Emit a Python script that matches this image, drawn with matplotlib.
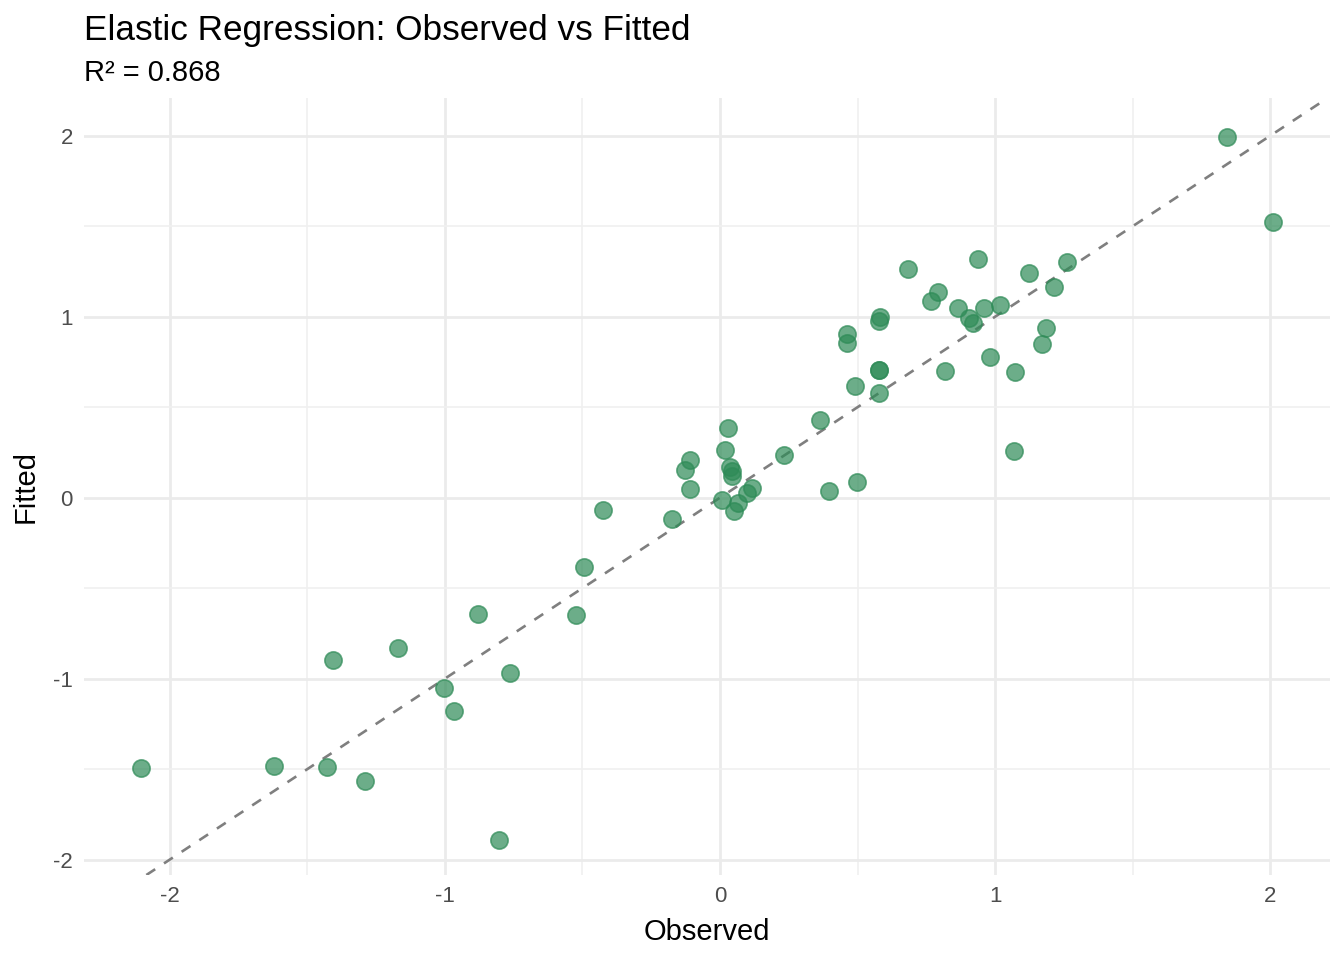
import matplotlib
matplotlib.use("Agg")
import matplotlib.pyplot as plt
from matplotlib.ticker import MultipleLocator, FixedLocator

plt.rcParams['font.family'] = ['Liberation Sans', 'DejaVu Sans']

# observed vs fitted values
observed = [1.844, 2.011, 0.684, 0.938, 1.124, 1.262, 0.793, 0.767, 0.865, 0.960,
            1.018, 0.905, 0.920, 1.215, 1.185, 1.171, 0.982, 1.073, 0.818, 1.069,
            0.582, 0.578, 0.462, 0.462, 0.578, 0.578, 0.578, 0.491, 0.364, 0.396,
            0.498, 0.233, 0.029, 0.018, 0.036, 0.044, 0.044, -0.109, -0.127, -0.109,
            0.007, 0.065, 0.051, 0.098, 0.116, -0.175, -0.425, -0.495, -0.524, -0.880,
            -0.764, -1.171, -1.407, -1.004, -0.967, -1.622, -1.429, -1.291, -2.105, -0.804]
fitted = [1.994, 1.525, 1.265, 1.320, 1.243, 1.304, 1.138, 1.088, 1.050, 1.050,
          1.066, 0.994, 0.967, 1.166, 0.939, 0.851, 0.779, 0.696, 0.702, 0.260,
          1.000, 0.978, 0.906, 0.856, 0.707, 0.707, 0.580, 0.619, 0.431, 0.039,
          0.088, 0.238, 0.387, 0.265, 0.171, 0.149, 0.122, 0.210, 0.155, 0.050,
          -0.011, -0.028, -0.072, 0.028, 0.055, -0.116, -0.066, -0.381, -0.646, -0.641,
          -0.967, -0.829, -0.895, -1.050, -1.177, -1.481, -1.486, -1.564, -1.492, -1.890]
r2 = 0.868
ticks = [-2, -1, 0, 1, 2]

fig = plt.figure(figsize=(13.44, 9.6), dpi=100)
ax = fig.add_axes([84/1344, 1-875/960, (1330-84)/1344, (875-98)/960])

xmin, xmax = min(observed), max(observed)
ymin, ymax = min(fitted), max(fitted)
xpad = (xmax - xmin) * 0.05
ypad = (ymax - ymin) * 0.05
ax.set_xlim(xmin - xpad, xmax + xpad)
ax.set_ylim(ymin - ypad, ymax + ypad + 0.02)

ax.axline((0, 0), slope=1, color='#7f7f7f', lw=1.9, dashes=(4, 4), zorder=3)
ax.scatter(observed, fitted, s=155, color='#2e8b57', alpha=0.7,
           edgecolors='#2e8b57', linewidths=1.2, zorder=4)

ax.xaxis.set_major_locator(FixedLocator(ticks))
ax.yaxis.set_major_locator(FixedLocator(ticks))
ax.xaxis.set_minor_locator(MultipleLocator(0.5))
ax.yaxis.set_minor_locator(MultipleLocator(0.5))
ax.set_xticklabels([str(t) for t in ticks])
ax.set_yticklabels([str(t) for t in ticks])
ax.grid(which='major', color='#ebebeb', lw=2.0)
ax.grid(which='minor', color='#f0f0f0', lw=1.2)
ax.set_axisbelow(True)
for s in ax.spines.values():
    s.set_visible(False)
ax.tick_params(which='both', length=0, labelsize=16, labelcolor='#4d4d4d', pad=8)

ax.set_xlabel('Observed', fontsize=21, labelpad=8)
ax.set_ylabel('Fitted', fontsize=21, labelpad=10)

fig.text(84/1344, 1-40/960, 'Elastic Regression: Observed vs Fitted', fontsize=25.3, ha='left', va='baseline')
fig.text(84/1344, 1-81/960, 'R² = %.3f' % r2, fontsize=21, ha='left', va='baseline')

fig.savefig('out.png', dpi=100)
